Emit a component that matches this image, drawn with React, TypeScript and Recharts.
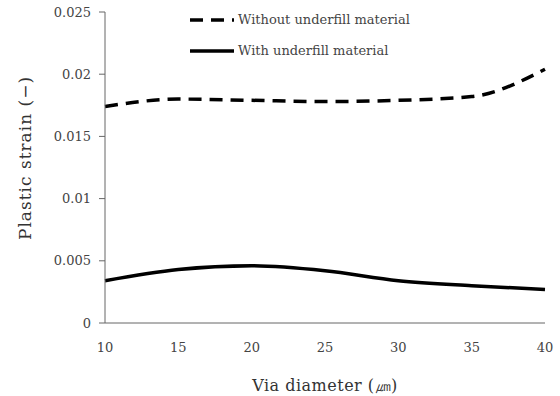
import { LineChart, Line, XAxis, YAxis } from 'recharts';

const diameters = [10, 15, 20, 25, 30, 35, 40];
const withoutUnderfill = [0.0174, 0.018, 0.0179, 0.0178, 0.0179, 0.0182, 0.0204];
const withUnderfill = [0.0034, 0.0043, 0.0046, 0.0042, 0.0034, 0.003, 0.0027];
const xTicks = [10, 15, 20, 25, 30, 35, 40];
const yTicks = [0, 0.005, 0.01, 0.015, 0.02, 0.025];

const data = diameters.map((d, i) => ({
  d,
  without: withoutUnderfill[i],
  with: withUnderfill[i],
}));

const FONT = '"DejaVu Serif", "Liberation Serif", serif';
const tickStyle = { fontSize: 13, fill: '#444', fontFamily: FONT };

// legend sits inside the plot area, top middle
function LegendBox() {
  const items = [
    { label: 'Without underfill material', dash: '13 8' },
    { label: 'With underfill material', dash: undefined },
  ];
  return (
    <div style={{ position: 'absolute', left: 190, top: 4, fontFamily: FONT, fontSize: 13, color: '#444' }}>
      {items.map((it) => (
        <div key={it.label} style={{ display: 'flex', alignItems: 'center', height: 31 }}>
          <svg width={44} height={8} style={{ marginRight: 4 }}>
            <line x1={0} y1={4} x2={44} y2={4} stroke="#000" strokeWidth={3.5} strokeDasharray={it.dash} />
          </svg>
          <span>{it.label}</span>
        </div>
      ))}
    </div>
  );
}

const yLabel = () => (
  <text
    x={25}
    y={158}
    transform="rotate(-90 25 158)"
    textAnchor="middle"
    dominantBaseline="central"
    style={{ fontSize: 17, fill: '#333', fontFamily: FONT, letterSpacing: 1 }}
  >
    Plastic strain (−)
  </text>
);

export default function App() {
  return (
    <div style={{ position: 'absolute', left: 0, top: 0, width: 560, height: 396, background: '#fff' }}>
      <LineChart width={560} height={396} data={data} margin={{ top: 12, right: 15, bottom: 0, left: 0 }}>
        <XAxis
          dataKey="d"
          type="number"
          domain={[10, 40]}
          ticks={xTicks}
          tick={tickStyle}
          tickLine={false}
          axisLine={{ stroke: '#666' }}
          height={73}
          tickMargin={14}
          label={{ value: 'Via diameter (㎛)', position: 'insideBottom', offset: 5, style: { fontSize: 16, fill: '#333', fontFamily: FONT, letterSpacing: 0.5 } }}
        />
        <YAxis
          domain={[0, 0.025]}
          ticks={yTicks}
          tick={tickStyle}
          width={105}
          tickSize={6}
          tickLine={{ stroke: '#666' }}
          axisLine={{ stroke: '#666' }}
          tickMargin={8}
          label={{ content: yLabel }}
        />
        <Line
          type="monotone"
          dataKey="without"
          stroke="#000"
          strokeWidth={3.5}
          strokeDasharray="13 8"
          dot={false}
          isAnimationActive={false}
        />
        <Line
          type="monotone"
          dataKey="with"
          stroke="#000"
          strokeWidth={3.5}
          dot={false}
          isAnimationActive={false}
        />
      </LineChart>
      <LegendBox />
    </div>
  );
}
